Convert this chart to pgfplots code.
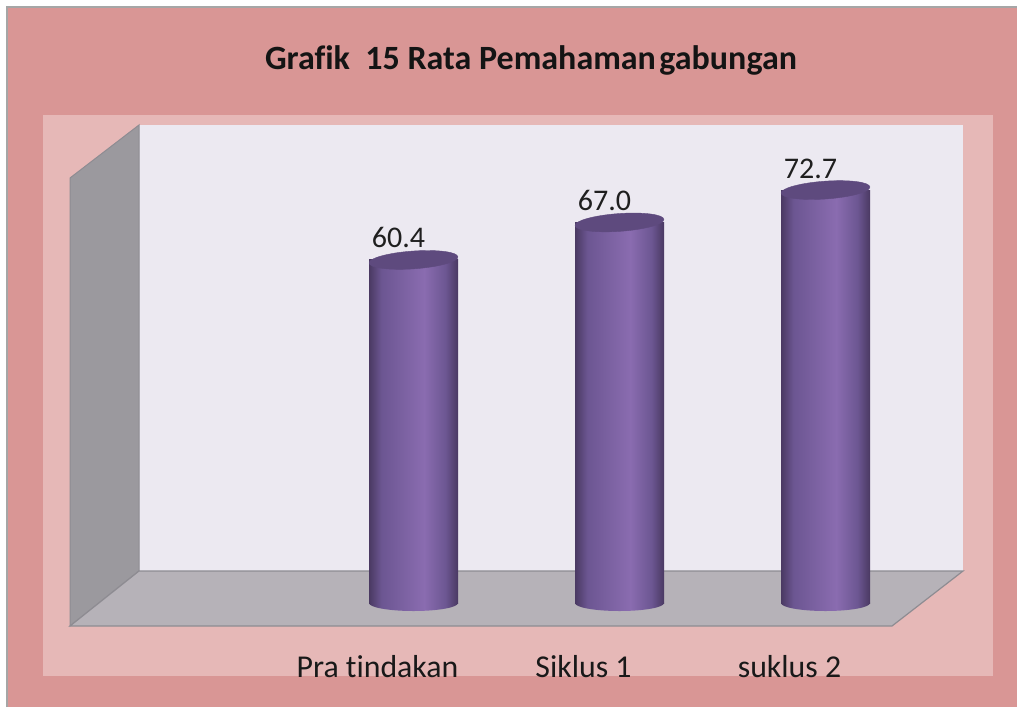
\documentclass[border=0pt]{standalone}
\usepackage{fontspec}
\setmainfont{Carlito}[Ligatures=NoCommon]
\usepackage{pgfplots}
\pgfplotsset{compat=1.18}
\usetikzlibrary{shapes.geometric}
\definecolor{outerpink}{HTML}{D99695}
\definecolor{innerpink}{HTML}{E6B8B7}
\definecolor{backwall}{HTML}{ECE9F1}
\definecolor{sidewall}{HTML}{9B999E}
\definecolor{floorc}{HTML}{B6B2B8}
\definecolor{edgec}{HTML}{8E8C92}
\definecolor{cylD}{HTML}{4A3962}
\definecolor{cylM}{HTML}{6C5692}
\definecolor{cylL}{HTML}{8A6CB0}
\definecolor{cylTop}{HTML}{5E4A7E}
\pgfdeclarehorizontalshading{cyl}{100bp}{color(0bp)=(cylD); color(25bp)=(cylD); color(32bp)=(cylM); color(56bp)=(cylL); color(68bp)=(cylM); color(75bp)=(cylD); color(100bp)=(cylD)}
\begin{document}
\begin{tikzpicture}
\begin{scope}[x=0.5pt,y=-0.5pt]
\useasboundingbox (0,0) rectangle (1017,707);
\fill[white] (0,0) rectangle (1017,707);
\fill[outerpink] (7,7) rectangle (1017,707);
\draw[gray!70, line width=0.8pt] (7,707) -- (7,7) -- (1017,7);
\fill[innerpink] (43,115) rectangle (993,676);
\fill[backwall] (139,125) rectangle (963,571);
\filldraw[fill=sidewall, draw=edgec, line width=0.5pt] (70,178) -- (139,125) -- (139,571) -- (70,626) -- cycle;
\filldraw[fill=floorc, draw=edgec, line width=0.6pt] (70,626) -- (139,571) -- (963,571) -- (892,626) -- cycle;
\end{scope}
\begin{axis}[
  at={(21.5pt,-338pt)}, anchor=south west,
  scale only axis, width=475pt, height=280.5pt,
  xmin=-1.7985, xmax=2.8131, ymin=-12.852, ymax=85.915,
  axis line style={draw=none},
  ytick=\empty,
  xtick={0,1,2},
  xticklabels={Pra tindakan, Siklus 1, suklus 2},
  xtick style={draw=none},
  major tick length=0pt,
  xticklabel style={anchor=base, xshift=-18pt, yshift=-0.5pt, font=\fontsize{15.9}{18}\selectfont, text=black!90},
  title={Grafik\ \ 15 Rata Pemahaman\kern0.1em gabungan},
  title style={at={(0.5,1)}, anchor=base, yshift=17pt, xshift=6.5pt, font=\bfseries\fontsize{17}{20}\selectfont, text=black!92},
  clip=false,
  /pgf/number format/assume math mode=true,
]
\addplot[ybar, bar width=44.5pt, bar shift=0pt, draw=none, shade, shading=cyl] coordinates {(0,60.4)};
\addplot[ybar, bar width=44.5pt, bar shift=0pt, draw=none, shade, shading=cyl] coordinates {(1,67.0)};
\addplot[ybar, bar width=44.5pt, bar shift=0pt, draw=none, shade, shading=cyl] coordinates {(2,72.7)};
\addplot[draw=none, mark=none, nodes near coords={}, nodes near coords align={anchor=center},
  every node near coord/.style={ellipse, shade, shading=cyl, minimum width=44.5pt, minimum height=8pt, inner sep=0pt, anchor=center}]
  coordinates {(0,0) (1,0) (2,0)};
\addplot[draw=none, mark=*, mark size=22.25pt, mark options={draw=cylTop, fill=cylTop, line width=0.2pt, rotate=4, yscale=0.2},
  nodes near coords={\pgfmathprintnumber[fixed,fixed zerofill,precision=1]{\pgfplotspointmeta}},
  nodes near coords align={anchor=base},
  every node near coord/.style={anchor=base, yshift=6pt, xshift=-7.5pt, font=\fontsize{15}{18}\selectfont, text=black!88, inner sep=0pt}]
  coordinates {(0,60.4) (1,67.0) (2,72.7)};
\end{axis}
\end{tikzpicture}
\end{document}
